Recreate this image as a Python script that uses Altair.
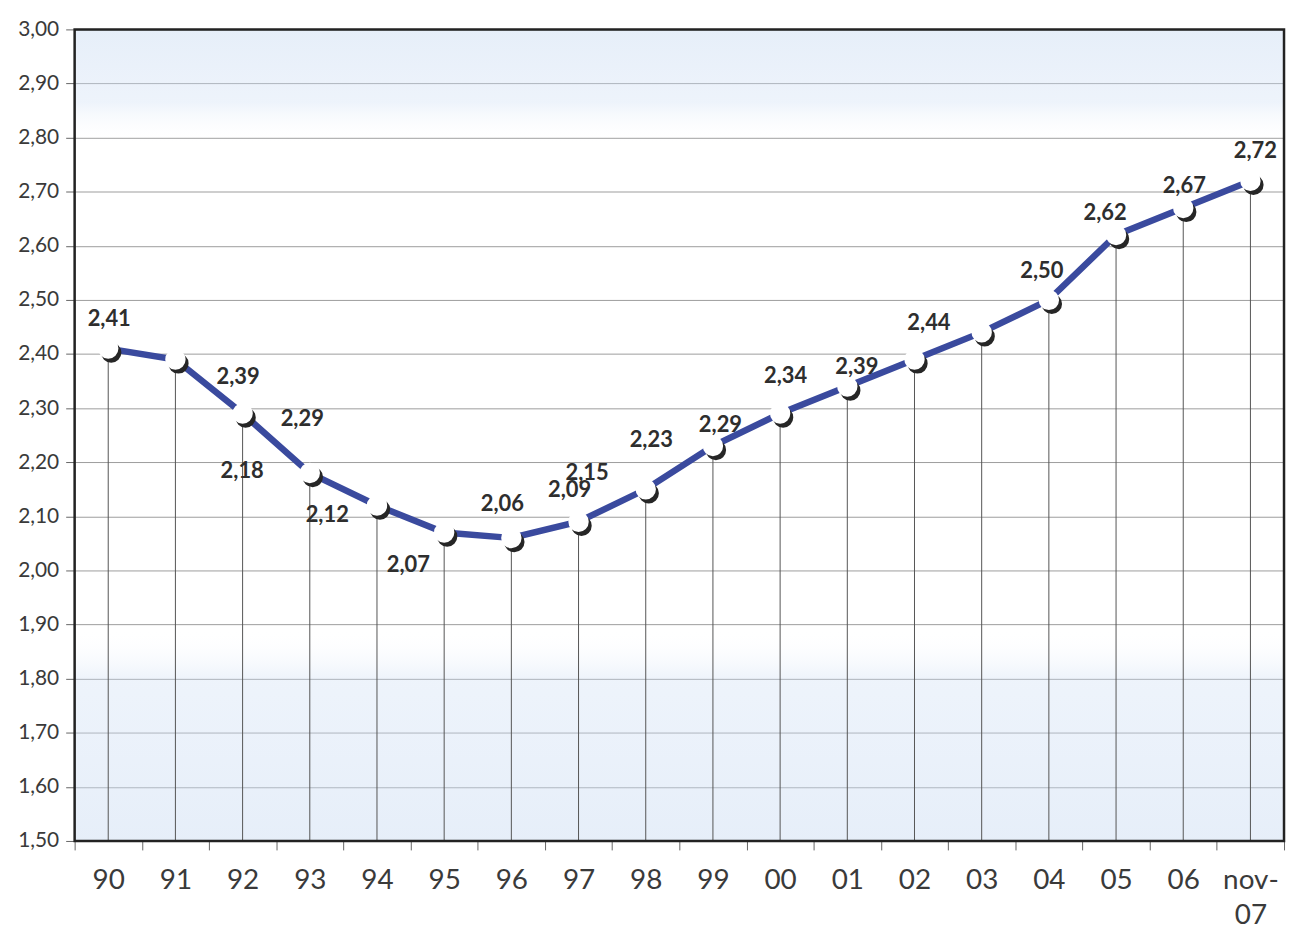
import altair as alt
import pandas as pd

# ---- data ----
years = ["90", "91", "92", "93", "94", "95", "96", "97", "98", "99",
         "00", "01", "02", "03", "04", "05", "06", "nov-07"]
values = [2.41, 2.39, 2.29, 2.18, 2.12, 2.07, 2.06, 2.09, 2.15, 2.23,
          2.29, 2.34, 2.39, 2.44, 2.50, 2.62, 2.67, 2.72]
labels = ["2,41", "2,39", "2,29", "2,18", "2,12", "2,07", "2,06", "2,09", "2,15", "2,23",
          "2,29", "2,34", "2,39", "2,44", "2,50", "2,62", "2,67", "2,72"]
y_ticks = [1.5, 1.6, 1.7, 1.8, 1.9, 2.0, 2.1, 2.2, 2.3, 2.4, 2.5,
           2.6, 2.7, 2.8, 2.9, 3.0]

# label placement (pixel offsets from each point), styling only
label_offsets = [(1, -30), (63, 18), (60, 6), (-68, -2), (-50, 10), (-36, 33),
                 (-9, -34), (-9, -32), (-59, -16), (-62, -6), (-60, 12), (-62, -11),
                 (-58, 8), (-53, -9), (-7, -29), (-11, -22), (1, -22), (5, -30)]

df = pd.DataFrame({"year": years, "value": values, "label": labels})

W, H = 1216, 816
FONT = "Lato"
TXT = "#3a3a3a"

x_enc = alt.X(
    "year:N", sort=years,
    scale=alt.Scale(type="band", paddingInner=0, paddingOuter=0),
    axis=alt.Axis(
        title=None, domain=False, grid=False, tickBand="extent",
        ticks=True, tickSize=9, tickColor="#666", tickWidth=1,
        labelFont=FONT, labelFontSize=28, labelColor=TXT, labelPadding=17,
        labelAngle=0, labelLineHeight=35,
        labelExpr="datum.value == 'nov-07' ? ['nov-', '07'] : datum.label",
    ),
)
y_enc = alt.Y(
    "value:Q",
    scale=alt.Scale(domain=[1.5, 3.0], zero=False, nice=False),
    axis=alt.Axis(
        title=None, values=y_ticks, domain=False, grid=True,
        gridColor="#9c9c9c", gridWidth=1, tickSize=9, tickColor="#666",
        labelFont=FONT, labelFontSize=21, labelColor=TXT, labelPadding=7,
        labelExpr="replace(format(datum.value, '.2f'), '.', ',')",
    ),
)

one_row = pd.DataFrame({"k": [0]})

# translucent bluish tint bands (top and bottom), gridlines stay visible through it
tint = alt.Chart(one_row).mark_rect(
    color={
        "gradient": "linear", "x1": 0, "y1": 0, "x2": 0, "y2": 1,
        "stops": [
            {"offset": 0.0, "color": "rgba(200,218,242,0.45)"},
            {"offset": 0.09, "color": "rgba(205,222,244,0.35)"},
            {"offset": 0.14, "color": "rgba(255,255,255,0)"},
            {"offset": 0.74, "color": "rgba(255,255,255,0)"},
            {"offset": 0.80, "color": "rgba(205,222,244,0.35)"},
            {"offset": 1.0, "color": "rgba(200,218,242,0.45)"},
        ],
    }
).encode(x=alt.value(0), x2=alt.value(W), y=alt.value(0), y2=alt.value(H))

# dark frame around the plot area
frame = alt.Chart(one_row).mark_rect(
    fill=None, filled=False, stroke="#222", strokeWidth=2.5
).encode(x=alt.value(0), x2=alt.value(W), y=alt.value(0), y2=alt.value(H))

base = alt.Chart(df)

drops = base.mark_rule(color="#555", strokeWidth=1).encode(
    x=x_enc, y=y_enc, y2=alt.datum(1.5)
)
line = base.mark_line(color="#3a4a9e", strokeWidth=6.5).encode(x=x_enc, y=y_enc)
shadow = base.mark_point(filled=True, shape="circle", size=420, color="#262626",
                         opacity=1, xOffset=3, yOffset=4).encode(x=x_enc, y=y_enc)
dots = base.mark_point(filled=True, shape="circle", size=420, color="white",
                       opacity=1).encode(x=x_enc, y=y_enc)

text_layers = []
for yr, (dx, dy) in zip(years, label_offsets):
    text_layers.append(
        base.transform_filter(alt.datum.year == yr)
        .mark_text(font=FONT, fontSize=22, fontWeight="bold", color="#2e2e2e",
                   align="center", baseline="middle", dx=dx, dy=dy)
        .encode(x=x_enc, y=y_enc, text="label:N")
    )

chart = (
    alt.layer(tint, drops, line, shadow, dots, frame, *text_layers)
    .properties(
        width=W, height=H,
        autosize=alt.AutoSizeParams(type="none"),
        padding={"left": 67, "top": 19, "right": 4, "bottom": 87},
    )
    .configure_view(stroke=None)
    .configure(background="white")
)

chart.save("out.html", embed_options={"renderer": "svg", "actions": False})
